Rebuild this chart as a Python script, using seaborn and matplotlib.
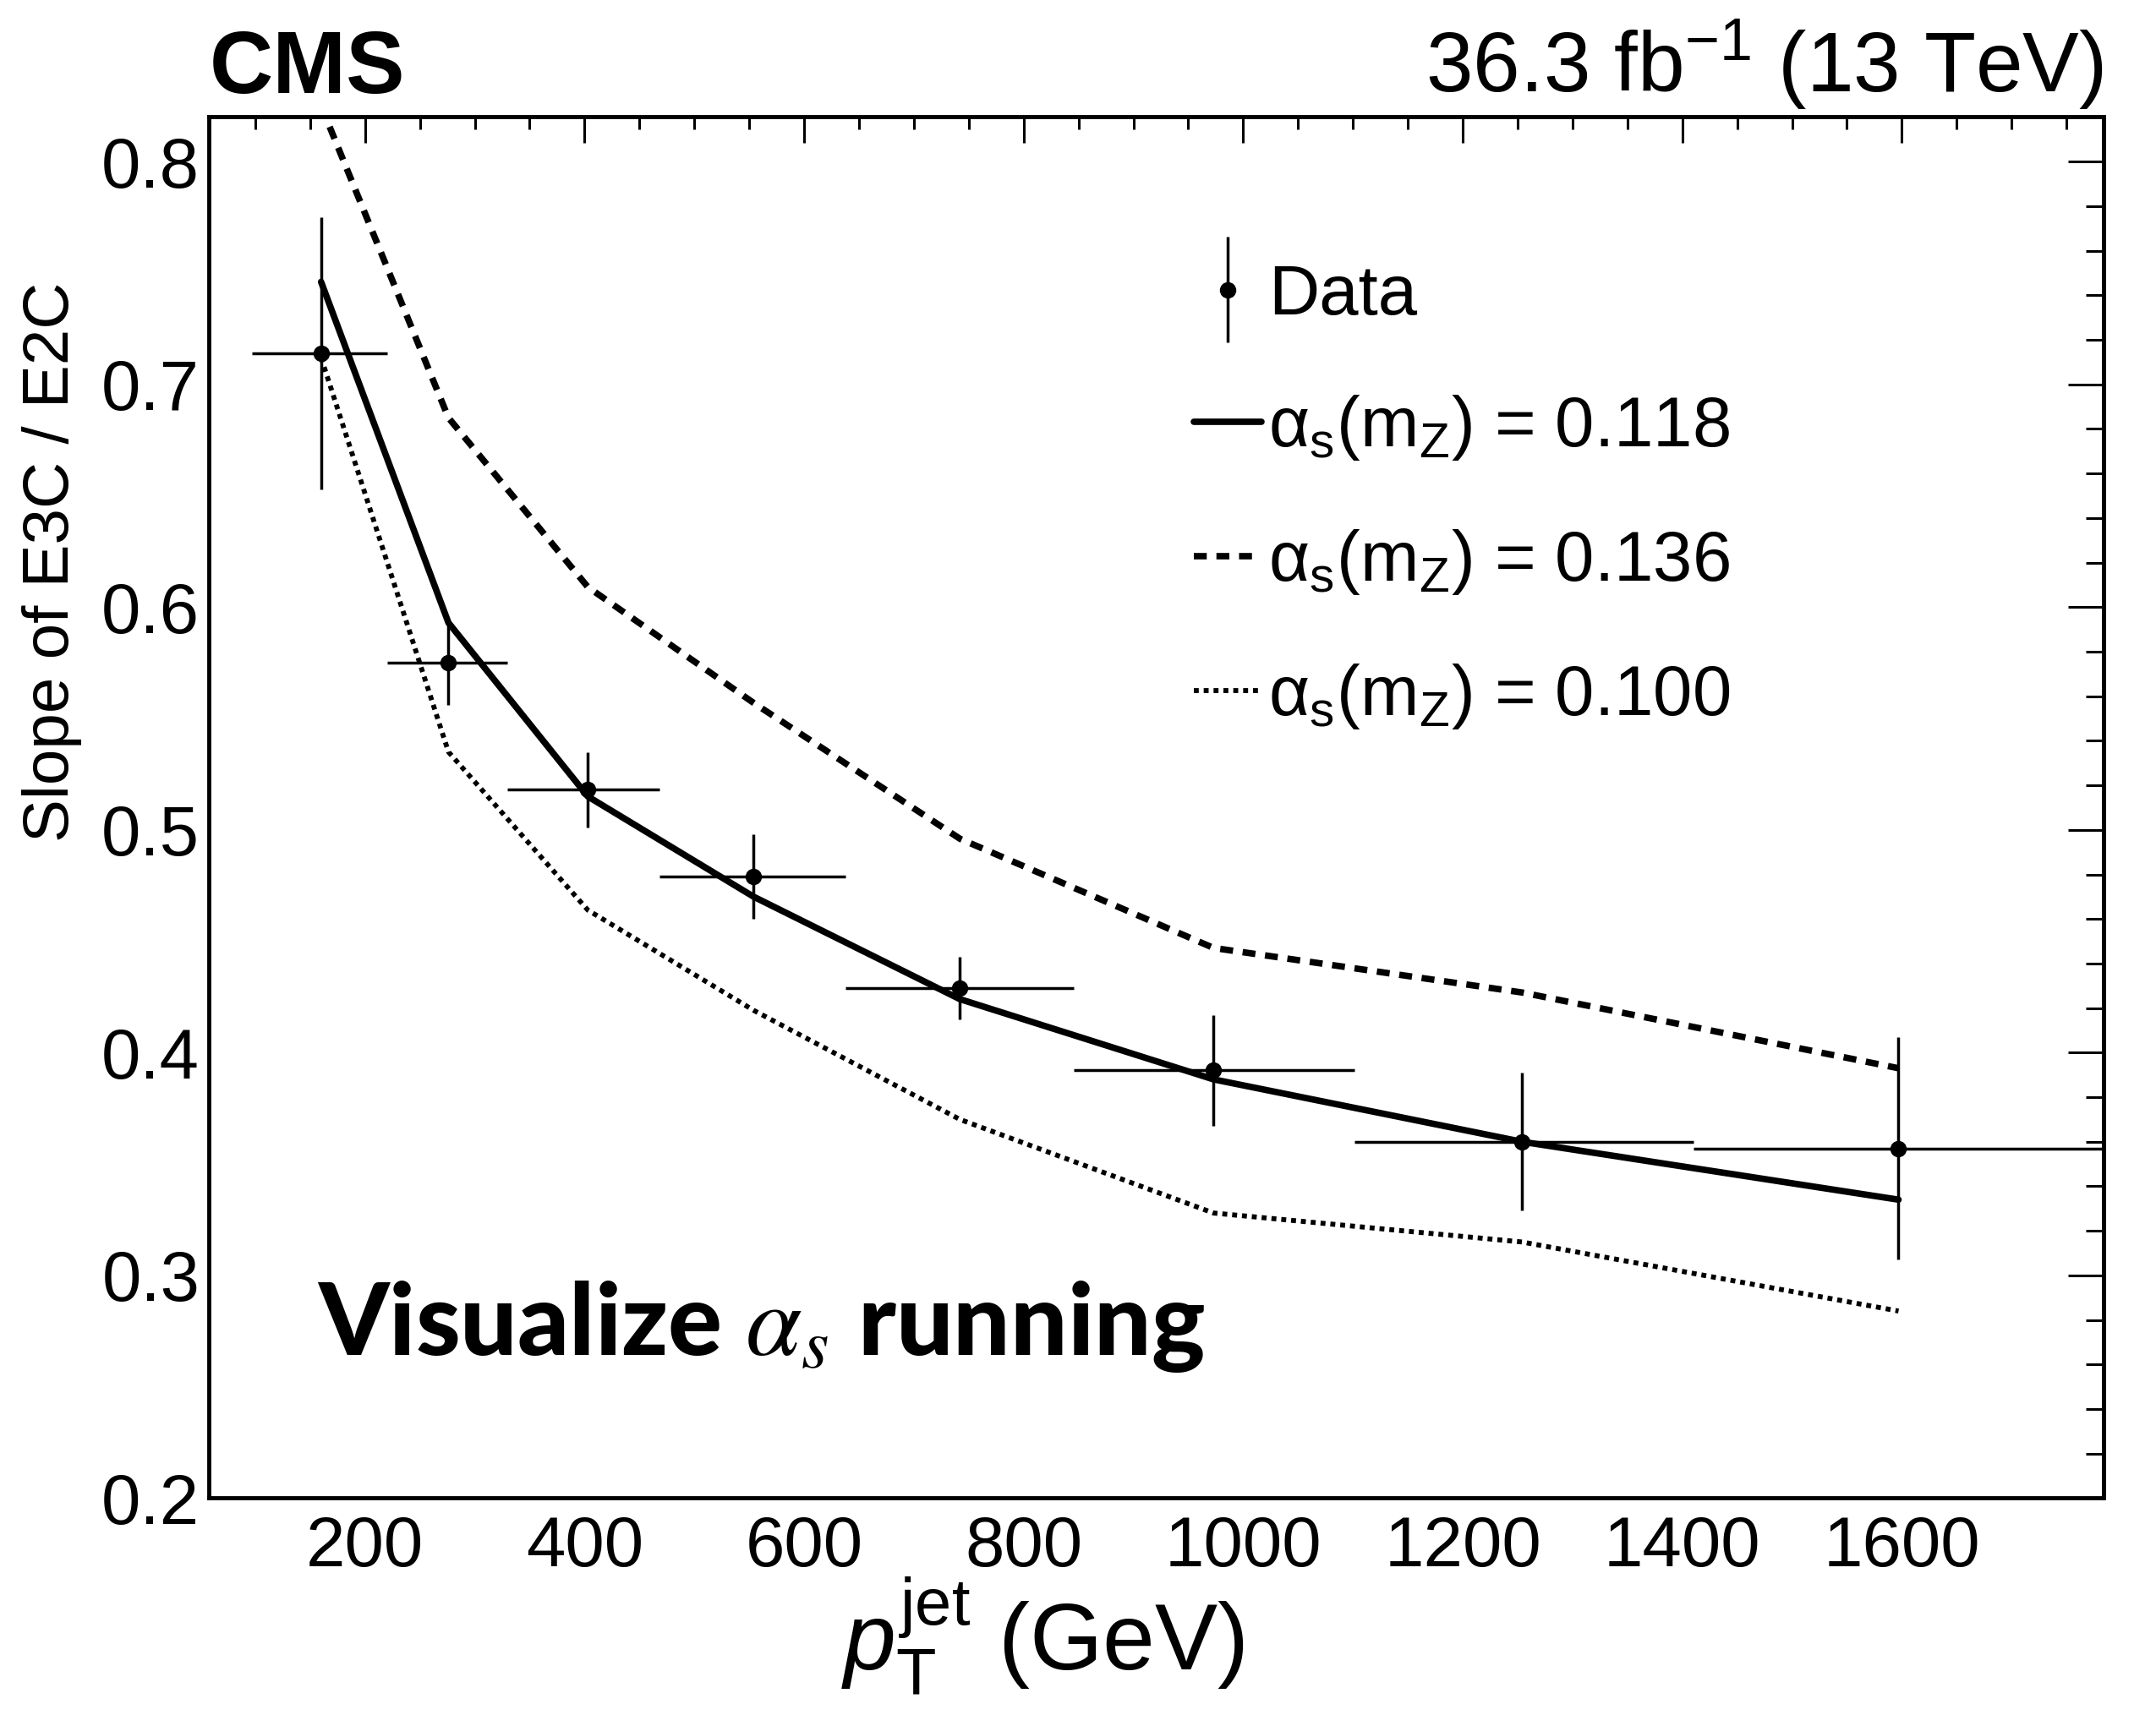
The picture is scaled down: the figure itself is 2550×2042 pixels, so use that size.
import numpy as np
import pandas as pd
import matplotlib
matplotlib.use("Agg")
import matplotlib.pyplot as plt
from matplotlib.legend_handler import HandlerErrorbar
import seaborn as sns

# --- data ---
bin_edges = [97, 220, 330, 468, 638, 846, 1101, 1410, 1784]
pt_centers = [160, 276, 403, 554, 742, 973, 1254, 1597]
data_slope = [0.714, 0.575, 0.518, 0.479, 0.429, 0.392, 0.360, 0.357]
data_err = [0.061, 0.019, 0.017, 0.019, 0.014, 0.025, 0.031, 0.050]

theory_118 = [0.746, 0.593, 0.515, 0.470, 0.424, 0.388, 0.360, 0.334]
theory_136 = [0.825, 0.685, 0.609, 0.557, 0.496, 0.447, 0.427, 0.393]
theory_100 = [0.712, 0.535, 0.464, 0.419, 0.370, 0.328, 0.315, 0.284]
alpha_labels = ["0.118", "0.136", "0.100"]

# --- styling ---
sns.set_style("white")
plt.rcParams["font.family"] = ["Liberation Sans", "DejaVu Sans"]
plt.rcParams["mathtext.fontset"] = "custom"
plt.rcParams["mathtext.rm"] = "Liberation Sans"
plt.rcParams["mathtext.it"] = "Liberation Sans:italic"
plt.rcParams["mathtext.bf"] = "Liberation Sans:bold"
plt.rcParams["text.color"] = "black"
plt.rcParams["axes.labelcolor"] = "black"

theory = pd.DataFrame({
    "pt": pt_centers * 3,
    "slope": theory_118 + theory_136 + theory_100,
    "alpha": [a for a in alpha_labels for _ in pt_centers],
})

fig = plt.figure(figsize=(25.5, 20.42), dpi=100)
ax = fig.add_axes([0.097, 0.132, 0.8788, 0.8002])

styles = {"0.118": "", "0.136": (2.0, 1.5), "0.100": (1.0, 1.0)}
sns.lineplot(data=theory, x="pt", y="slope", style="alpha", dashes=styles,
             style_order=alpha_labels, color="black", linewidth=5.5,
             legend=False, sort=False, ax=ax)
for ln in ax.lines:
    ln.set_dash_capstyle("butt")
ax.lines[2].set_linewidth(4.2)

pt = np.array(pt_centers)
edges = np.array(bin_edges)
xerr = [pt - edges[:-1], edges[1:] - pt]
data_handle = ax.errorbar(pt_centers, data_slope, yerr=data_err, xerr=xerr,
                          fmt="o", color="black", markersize=13, elinewidth=2.5,
                          capsize=0, zorder=5)

ax.set_xlim(58, 1784)
ax.set_ylim(0.2, 0.82)
ax.set_xticks(np.arange(200, 1700, 200))
ax.set_xticks(np.arange(100, 1784, 50), minor=True)
ax.set_yticks(np.arange(0.2, 0.81, 0.1))
ax.set_yticks(np.arange(0.2, 0.82, 0.02), minor=True)
ax.yaxis.set_major_formatter(plt.FuncFormatter(lambda v, p: f"{v:.1f}"))
ax.tick_params(which="both", direction="in", top=True, right=True,
               width=2.2, labelsize=60, colors="black")
ax.tick_params(axis="x", which="major", length=22, pad=14)
ax.tick_params(axis="x", which="minor", length=11)
ax.tick_params(axis="y", which="major", length=30, pad=8)
ax.tick_params(axis="y", which="minor", length=15)
for sp in ax.spines.values():
    sp.set_linewidth(3.5)
    sp.set_color("black")

ax.set_xlabel(r"$p_{\mathrm{T}}^{\mathrm{jet}}$ (GeV)", fontsize=80)
ax.set_ylabel("Slope of E3C / E2C", fontsize=55)
ax.xaxis.set_label_coords(0.44, -0.056)
ax.yaxis.set_label_coords(-0.067, 0.678)

fig.text(0.097, 0.946, "CMS", fontsize=75, fontweight="bold", va="baseline")
fig.text(0.9758, 0.947, r"36.3 fb$^{-1}$ (13 TeV)", fontsize=72,
         ha="right", va="baseline")

ax.text(0.057, 0.104, r"Visualize $\alpha_s$ running", transform=ax.transAxes,
        fontsize=86, fontfamily="Lato", fontweight="black",
        math_fontfamily="stix")

handles = [data_handle] + ax.lines[:3]
labels = ["Data"] + [rf"$\mathrm{{\alpha_{{s}}(m_{{Z}})}}$ = {a}" for a in alpha_labels]
leg = ax.legend(handles, labels, loc="upper left",
                bbox_to_anchor=(0.505, 0.915), frameon=False, fontsize=60,
                handlelength=0.95, handletextpad=0.1, labelspacing=0.92,
                borderaxespad=0,
                handler_map={type(data_handle): HandlerErrorbar(xerr_size=0, yerr_size=0.75)})

fig.savefig("out.png", dpi=100, facecolor="white")
